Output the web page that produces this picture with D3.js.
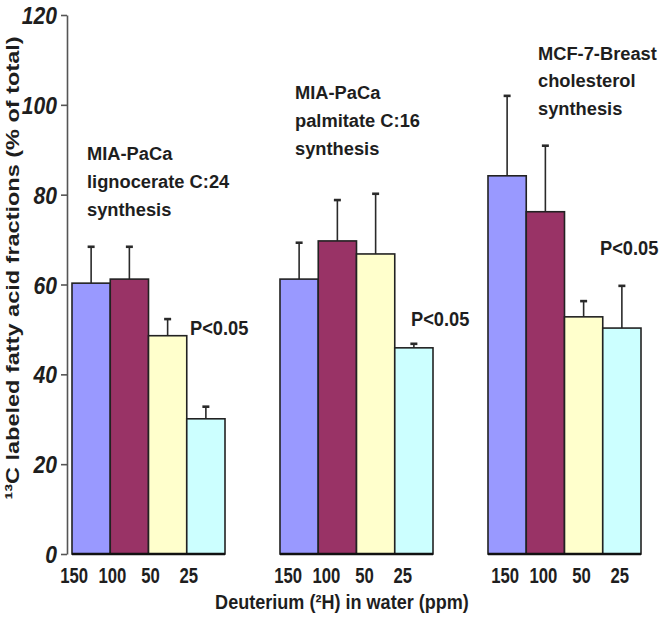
<!DOCTYPE html>
<html>
<head>
<meta charset="utf-8">
<script src="https://cdn.jsdelivr.net/npm/d3@7"></script>
<style>
  body { margin: 0; background: #fff; }
  svg { display: block; font-family: "Liberation Sans", Arial, sans-serif; }
  text { fill: #1e1e1e; font-weight: bold; }
</style>
</head>
<body>
<div id="chart"></div>
<script>
// Data
const groups = ['lignocerate', 'palmitate', 'cholesterol']
const groupLabels = [
    ['MIA-PaCa', 'lignocerate C:24', 'synthesis'],
    ['MIA-PaCa', 'palmitate C:16', 'synthesis'],
    ['MCF-7-Breast', 'cholesterol', 'synthesis']
]
const ppm = ['150', '100', '50', '25']
const lignocerate = [60.3, 61.2, 48.6, 30.1]
const lignocerateErr = [8.1, 7.2, 3.7, 2.7]
const palmitate = [61.2, 69.7, 66.8, 45.9]
const palmitateErr = [8.1, 9.1, 13.4, 0.9]
const cholesterol = [84.2, 76.2, 52.8, 50.3]
const cholesterolErr = [17.8, 14.7, 3.5, 9.4]
const yTicks = [0, 20, 40, 60, 80, 100, 120]
const pLabel = 'P<0.05'
const yTitle = '\u00B9\u00B3C labeled fatty acid fractions (% of total)'
const xTitle = 'Deuterium (\u00B2H) in water (ppm)'

const values = [lignocerate, palmitate, cholesterol]
const errors = [lignocerateErr, palmitateErr, cholesterolErr]
const colors = ['#9999ff', '#993366', '#ffffcc', '#ccffff']

// Layout (screen pixels)
const width = 660
const height = 617
const axisX = 67
const labelPos = [{ x: 87, y: 160 }, { x: 295, y: 99 }, { x: 538, y: 59.5 }]
const lineGap = 27.8
const pPos = [{ x: 190, y: 335 }, { x: 411, y: 326 }, { x: 600, y: 255 }]
const tickShift = [-17, -11, -2]

const svg = d3.select('#chart')
    .append('svg')
    .attr('width', width)
    .attr('height', height)

// text helper, sx squeezes glyphs horizontally like the source image
function label(sel, x, y, s, o) {
    return sel.append('text')
        .attr('transform', `translate(${x},${y}) scale(${o.sx || 1},1)`)
        .attr('text-anchor', o.anchor || 'start')
        .style('font-size', o.size + 'px')
        .style('font-style', o.italic ? 'italic' : 'normal')
        .text(s)
}

// Scales
const y = d3.scaleLinear().domain([0, 120]).range([554, 15])
const x0 = d3.scaleBand().domain(groups).range([72, 641]).paddingInner(0.2644)
const x1 = d3.scaleBand().domain(ppm).range([0, x0.bandwidth()])

// Y axis
const yAxis = svg.append('g')
    .attr('transform', `translate(${axisX},0)`)
    .call(d3.axisLeft(y).tickValues(yTicks).tickSize(6).tickSizeOuter(0))
yAxis.select('.domain').attr('stroke', '#555').attr('stroke-width', 1.6)
yAxis.selectAll('.tick line').attr('stroke', '#555').attr('stroke-width', 1.6)
yAxis.selectAll('.tick text')
    .attr('x', null).attr('dy', null)
    .attr('transform', 'translate(-10,8.5) scale(0.88,1)')
    .attr('fill', '#1e1e1e')
    .style('font-size', '24px')
    .style('font-style', 'italic')
    .style('font-family', '"Liberation Sans", Arial, sans-serif')

// Bars per group
groups.forEach((g, gi) => {
    const rows = ppm.map((p, i) => ({ p, v: values[gi][i], e: errors[gi][i], c: colors[i] }))
    const gx = svg.append('g').attr('transform', `translate(${x0(g)},0)`)

    // error bars (upper only)
    const eb = gx.append('g').attr('stroke', '#2a2a2a')
    eb.selectAll('line.stem')
        .data(rows)
        .join('line')
        .attr('class', 'stem')
        .attr('x1', d => x1(d.p) + x1.bandwidth() / 2)
        .attr('x2', d => x1(d.p) + x1.bandwidth() / 2)
        .attr('y1', d => y(d.v))
        .attr('y2', d => y(d.v + d.e))
        .attr('stroke-width', 1.6)
    eb.selectAll('line.cap')
        .data(rows)
        .join('line')
        .attr('class', 'cap')
        .attr('x1', d => x1(d.p) + x1.bandwidth() / 2 - 3.5)
        .attr('x2', d => x1(d.p) + x1.bandwidth() / 2 + 3.5)
        .attr('y1', d => y(d.v + d.e))
        .attr('y2', d => y(d.v + d.e))
        .attr('stroke-width', 2.6)

    gx.selectAll('rect')
        .data(rows)
        .join('rect')
        .attr('x', d => x1(d.p))
        .attr('y', d => y(d.v))
        .attr('width', x1.bandwidth())
        .attr('height', d => y(0) - y(d.v))
        .attr('fill', d => d.c)
        .attr('stroke', '#222')
        .attr('stroke-width', 1.6)

    // baseline under each group
    gx.append('line')
        .attr('x1', 0).attr('x2', x0.bandwidth())
        .attr('y1', y(0)).attr('y2', y(0))
        .attr('stroke', '#111')
        .attr('stroke-width', 2.6)

    // category labels
    rows.forEach(d => {
        label(svg, x0(g) + x1(d.p) + x1.bandwidth() / 2 + tickShift[gi], 583, d.p,
            { size: 22, sx: 0.76, anchor: 'middle' })
    })

    // group description
    groupLabels[gi].forEach((t, li) => {
        label(svg, labelPos[gi].x, labelPos[gi].y + li * lineGap, t, { size: 18.3 })
    })

    // significance note
    label(svg, pPos[gi].x, pPos[gi].y, pLabel, { size: 21, sx: 0.87 })
})

// Axis titles
label(svg, 342, 609, xTitle, { size: 21, sx: 0.86, anchor: 'middle' })
svg.append('text')
    .attr('transform', 'translate(19,268) rotate(-90) scale(1,0.8)')
    .attr('text-anchor', 'middle')
    .style('font-size', '23.5px')
    .text(yTitle)
</script>
</body>
</html>
